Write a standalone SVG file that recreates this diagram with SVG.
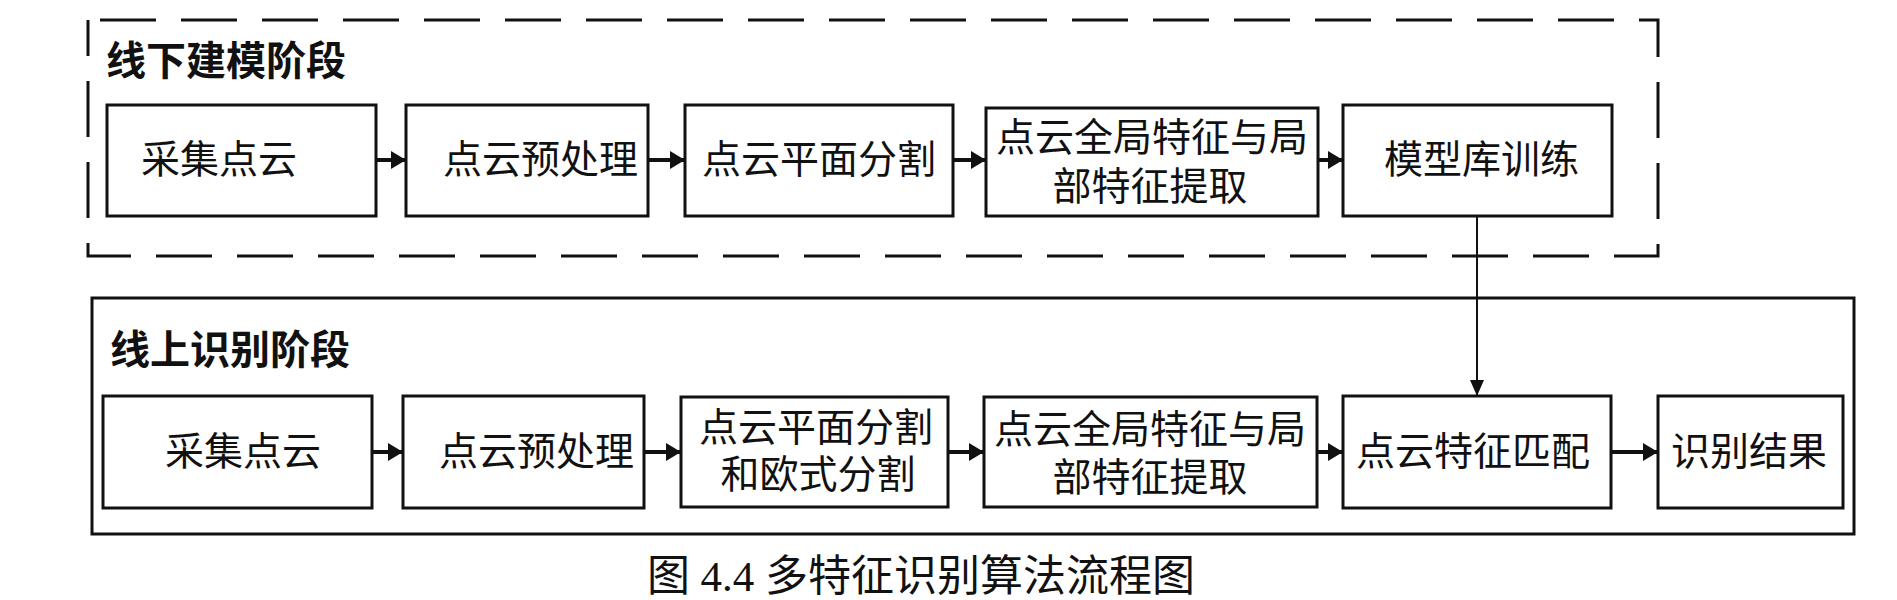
<svg xmlns="http://www.w3.org/2000/svg" width="1897" height="600" viewBox="0 0 1897 600">
<style>
.box{fill:#fff;stroke:#111;stroke-width:3}
.t{font-family:"Liberation Serif","Noto Sans CJK SC",serif;font-size:39px;fill:#111}
.title{font-family:"Noto Sans CJK SC",sans-serif;font-size:40px;font-weight:bold;fill:#111}
.cap{font-family:"Liberation Serif","Noto Sans CJK SC",serif;font-size:43px;fill:#111}
.flow{stroke:#111;stroke-width:4;fill:none}
.thin{stroke:#111;stroke-width:2;fill:none}
</style>
<defs>
<marker id="ah" markerUnits="userSpaceOnUse" markerWidth="16" markerHeight="18" refX="15" refY="9" orient="auto">
<path d="M0,0 L15,9 L0,18 Z" fill="#111"/>
</marker>
<marker id="ah2" markerUnits="userSpaceOnUse" markerWidth="16" markerHeight="16" refX="16" refY="7" orient="auto">
<path d="M0,0 L16,7 L0,14 Z" fill="#111"/>
</marker>
</defs>
<rect width="1897" height="600" fill="#fff"/>
<g id="offline">
<rect x="88" y="20" width="1570" height="236" fill="none" stroke="#111" stroke-width="3" stroke-dasharray="56 25" stroke-dashoffset="-12"/>
<text class="title" x="106" y="75">线下建模阶段</text>
</g>
<g id="online">
<rect x="92" y="298" width="1762" height="236" fill="none" stroke="#111" stroke-width="3"/>
<text class="title" x="110" y="364">线上识别阶段</text>
</g>
<g id="u1"><rect class="box" x="107" y="105" width="269" height="111"/><text class="t" x="141" y="173">采集点云</text></g>
<g id="u2"><rect class="box" x="406" y="105" width="242" height="111"/><text class="t" x="443" y="173">点云预处理</text></g>
<g id="u3"><rect class="box" x="685" y="105" width="268" height="111"/><text class="t" x="819" y="173" text-anchor="middle">点云平面分割</text></g>
<g id="u4"><rect class="box" x="986" y="108" width="332" height="108"/><text class="t" x="1152" y="151" text-anchor="middle">点云全局特征与局</text><text class="t" x="1150" y="200" text-anchor="middle">部特征提取</text></g>
<g id="u5"><rect class="box" x="1343" y="105" width="269" height="111"/><text class="t" x="1384" y="173">模型库训练</text></g>
<g id="l1"><rect class="box" x="103" y="396" width="269" height="112"/><text class="t" x="165" y="465">采集点云</text></g>
<g id="l2"><rect class="box" x="403" y="396" width="241" height="112"/><text class="t" x="439" y="465">点云预处理</text></g>
<g id="l3"><rect class="box" x="681" y="397" width="267" height="110"/><text class="t" x="816" y="441" text-anchor="middle">点云平面分割</text><text class="t" x="818" y="488" text-anchor="middle">和欧式分割</text></g>
<g id="l4"><rect class="box" x="984" y="397" width="333" height="110"/><text class="t" x="1150" y="443" text-anchor="middle">点云全局特征与局</text><text class="t" x="1150" y="491" text-anchor="middle">部特征提取</text></g>
<g id="l5"><rect class="box" x="1343" y="396" width="268" height="112"/><text class="t" x="1473" y="465" text-anchor="middle">点云特征匹配</text></g>
<g id="l6"><rect class="box" x="1658" y="396" width="185" height="112"/><text class="t" x="1749" y="465" text-anchor="middle">识别结果</text></g>
<g id="connectors">
<line class="flow" x1="377" y1="160" x2="406" y2="160" marker-end="url(#ah)"/>
<line class="flow" x1="649" y1="160" x2="685" y2="160" marker-end="url(#ah)"/>
<line class="flow" x1="954" y1="160" x2="986" y2="160" marker-end="url(#ah)"/>
<line class="flow" x1="1319" y1="160" x2="1343" y2="160" marker-end="url(#ah)"/>
<line class="flow" x1="373" y1="452" x2="403" y2="452" marker-end="url(#ah)"/>
<line class="flow" x1="645" y1="452" x2="681" y2="452" marker-end="url(#ah)"/>
<line class="flow" x1="949" y1="452" x2="984" y2="452" marker-end="url(#ah)"/>
<line class="flow" x1="1318" y1="452" x2="1343" y2="452" marker-end="url(#ah)"/>
<line class="flow" x1="1612" y1="452" x2="1658" y2="452" marker-end="url(#ah)"/>
<line class="thin" x1="1477" y1="216" x2="1477" y2="396" marker-end="url(#ah2)"/>
</g>
<text class="cap" x="921" y="591" text-anchor="middle">图 4.4 多特征识别算法流程图</text>
</svg>
